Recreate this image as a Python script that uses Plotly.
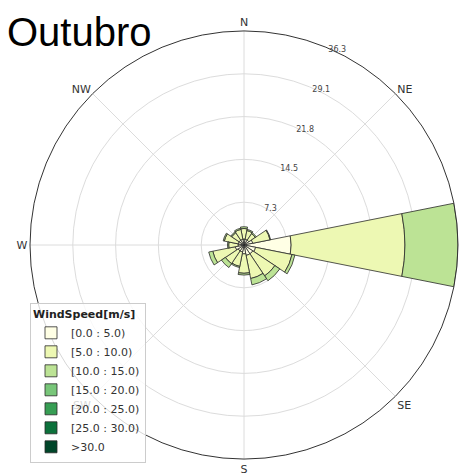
import plotly.graph_objects as go

# ---- data ----
directions_deg = [0, 22.5, 45, 67.5, 90, 112.5, 135, 157.5,
                  180, 202.5, 225, 247.5, 270, 292.5, 315, 337.5]
speed_bins = ['[0.0 : 5.0)', '[5.0 : 10.0)', '[10.0 : 15.0)', '[15.0 : 20.0)',
              '[20.0 : 25.0)', '[25.0 : 30.0)', '>30.0']
freq_0_5   = [1.0, 1.0, 1.0, 1.5, 8.0, 2.0, 1.8, 1.8, 1.5, 1.2, 1.2, 1.5, 1.0, 1.0, 1.0, 1.0]
freq_5_10  = [1.8, 1.5, 1.3, 3.0, 19.3, 6.3, 4.5, 4.0, 3.3, 2.5, 2.6, 3.9, 1.6, 2.4, 1.5, 1.7]
freq_10_15 = [0.3, 0.2, 0.2, 0.1, 9.0, 0.5, 1.0, 1.1, 0.3, 0.2, 0.8, 0.7, 0.2, 0.2, 0.2, 0.2]
freq_15_20 = [0.0] * 16
freq_20_25 = [0.0] * 16
freq_25_30 = [0.0] * 16
freq_30_up = [0.0] * 16
radial_ticks = [7.3, 14.5, 21.8, 29.1, 36.3]
compass_vals = [0, 45, 90, 135, 180, 225, 270, 315]
compass_text = ['N', 'NE', 'E', 'SE', 'S', 'SW', 'W', 'NW']

series = [freq_0_5, freq_5_10, freq_10_15, freq_15_20, freq_20_25, freq_25_30, freq_30_up]
colors = ['#ffffe5', '#edf8b3', '#bce395', '#78c679', '#379e54', '#0c713b', '#004529']

fig = go.Figure()
for name, vals, col in zip(speed_bins, series, colors):
    fig.add_trace(go.Barpolar(
        r=vals, theta=directions_deg, width=22.5, name=name,
        marker=dict(color=col, line=dict(color='#2a2a2a', width=0.8)),
    ))

# page body has an 8px margin: figure coordinates = page coordinates - 8
OFF = 8
W, H = 467 - OFF, 475 - OFF


def dx(px):
    return (px - OFF) / W


def dy(py):
    return 1 - (py - OFF) / H


fig.update_layout(
    width=W, height=H,
    margin=dict(l=0, r=0, t=0, b=0),
    paper_bgcolor='white',
    font=dict(family='DejaVu Sans', size=11, color='#333'),
    polar=dict(
        domain=dict(x=[dx(30), dx(458)], y=[dy(459), dy(31)]),
        bgcolor='white',
        barmode='stack',
        angularaxis=dict(
            rotation=90, direction='clockwise',
            tickmode='array', tickvals=compass_vals, ticktext=compass_text,
            showline=True, linecolor='#333', linewidth=1,
            gridcolor='#dcdcdc', gridwidth=1, ticks='',
            tickfont=dict(size=11, color='#333'),
        ),
        radialaxis=dict(
            range=[0, 36.3], tickmode='array',
            tickvals=[i * 36.3 / 5 for i in range(1, 6)],
            ticktext=[f'{t:.1f}' for t in radial_ticks],
            angle=68, tickangle=68, showline=False, ticks='',
            gridcolor='#dcdcdc', gridwidth=1,
            tickfont=dict(size=8, color='#444'),
        ),
    ),
    legend=dict(
        x=dx(30), y=dy(463), xanchor='left', yanchor='bottom',
        bgcolor='rgba(255,255,255,0.8)', bordercolor='#cccccc', borderwidth=1,
        font=dict(size=11, color='#333'),
        title=dict(text='<b>WindSpeed[m/s]</b>', font=dict(size=11, color='#222')),
        tracegroupgap=0,
    ),
    annotations=[dict(
        text='Outubro', x=0.0, y=1.0, xref='paper', yref='paper',
        xanchor='left', yanchor='top', showarrow=False, xshift=-3, yshift=0,
        font=dict(family='Liberation Sans', size=40, color='black'),
    )],
)

fig.write_html('out.html')
